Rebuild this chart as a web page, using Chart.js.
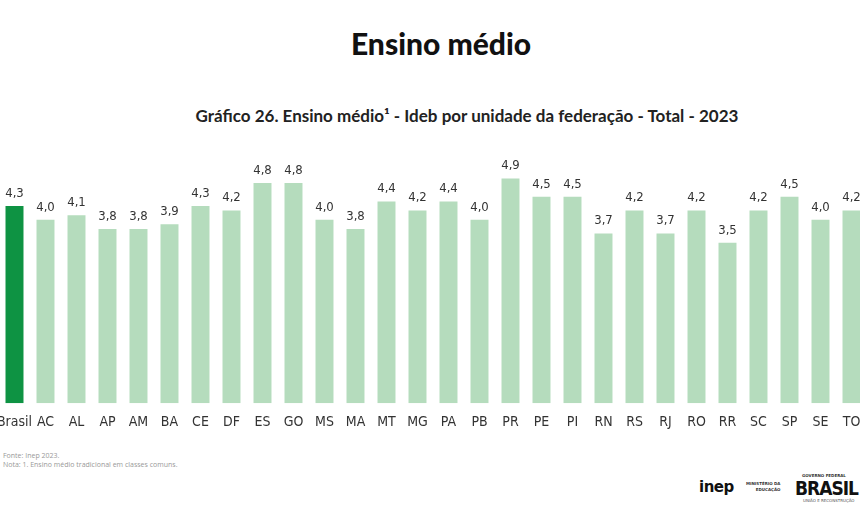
<!DOCTYPE html>
<html>
<head>
<meta charset="utf-8">
<script src="https://cdn.jsdelivr.net/npm/chart.js@4"></script>
<style>
  html, body { margin: 0; padding: 0; background: #fff; width: 860px; height: 510px; overflow: hidden; position: relative; }
  .title { position: absolute; top: 25px; left: 0; width: 882px; text-align: center; font: 900 30px Lato, "Noto Sans", sans-serif; color: #111; }
  .subtitle { position: absolute; top: 105px; left: 0; width: 934px; text-align: center; font: 700 17px Lato, "Noto Sans", sans-serif; color: #222; }
  #wrap { position: absolute; left: -1px; top: 151px; width: 868px; height: 291px; }
  .notes { position: absolute; left: 3px; top: 451px; font: 7px "Open Sans", sans-serif; color: #999; line-height: 9px; }
  .logo { position: absolute; font-family: "DejaVu Sans", sans-serif; color: #111; }
</style>
</head>
<body>
<div class="title">Ensino médio</div>
<div class="subtitle">Gráfico 26. Ensino médio¹ - Ideb por unidade da federação - Total - 2023</div>
<div id="wrap"><canvas id="chart"></canvas></div>
<div class="notes">Fonte: Inep 2023.<br>Nota: 1. Ensino médio tradicional em classes comuns.</div>
<div class="logo" style="left:699px;top:478px;font:900 15px 'DejaVu Sans';letter-spacing:-0.5px;">inep</div>
<div class="logo" style="left:746px;top:481px;font:700 4px 'DejaVu Sans';text-align:right;line-height:6px;color:#333;">MINISTÉRIO DA<br>EDUCAÇÃO</div>
<div class="logo" style="left:802px;top:473px;font:700 4px 'DejaVu Sans';color:#333;">GOVERNO FEDERAL</div>
<div class="logo" style="left:795px;top:477px;font:900 19px 'DejaVu Sans Condensed','DejaVu Sans';letter-spacing:-1px;">BRASIL</div>
<div class="logo" style="left:803px;top:498px;font:4px 'DejaVu Sans';color:#555;">UNIÃO E RECONSTRUÇÃO</div>
<script>
const categories = ['Brasil', 'AC', 'AL', 'AP', 'AM', 'BA', 'CE', 'DF', 'ES', 'GO', 'MS', 'MA', 'MT', 'MG',
  'PA', 'PB', 'PR', 'PE', 'PI', 'RN', 'RS', 'RJ', 'RO', 'RR', 'SC', 'SP', 'SE', 'TO'];
const ideb = [4.3, 4.0, 4.1, 3.8, 3.8, 3.9, 4.3, 4.2, 4.8, 4.8, 4.0, 3.8, 4.4, 4.2,
  4.4, 4.0, 4.9, 4.5, 4.5, 3.7, 4.2, 3.7, 4.2, 3.5, 4.2, 4.5, 4.0, 4.2];

const darkGreen = '#0e9343';
const lightGreen = '#b5dcbd';
const barColors = categories.map(c => c === 'Brasil' ? darkGreen : lightGreen);
const narrowFont = '"Liberation Sans Narrow", "Arial Narrow", "DejaVu Sans Condensed", sans-serif';

// value labels above each bar, written with a comma
const valueLabels = {
  id: 'valueLabels',
  afterDatasetsDraw(chart) {
    const ctx = chart.ctx;
    const meta = chart.getDatasetMeta(0);
    ctx.save();
    ctx.font = '13px ' + narrowFont;
    ctx.fillStyle = '#333';
    ctx.textAlign = 'center';
    ctx.textBaseline = 'bottom';
    meta.data.forEach((bar, i) => {
      ctx.fillText(ideb[i].toFixed(1).replace('.', ','), bar.x, bar.y - 6);
    });
    ctx.restore();
  }
};

new Chart(document.getElementById('chart'), {
  type: 'bar',
  data: {
    labels: categories,
    datasets: [{
      data: ideb,
      backgroundColor: barColors,
      borderWidth: 0,
      barPercentage: 0.58,
      categoryPercentage: 1.0,
    }],
  },
  options: {
    responsive: true,
    maintainAspectRatio: false,
    animation: false,
    layout: { padding: 0 },
    plugins: { legend: { display: false }, tooltip: { enabled: false } },
    scales: {
      x: {
        grid: { display: false, drawTicks: false },
        border: { display: false },
        afterFit(scale) {
          // slots already leave room for the labels
          scale.paddingLeft = 0;
          scale.paddingRight = 0;
        },
        ticks: {
          color: '#333',
          padding: 11,
          maxRotation: 0,
          autoSkip: false,
          font: { family: narrowFont, size: 14 },
        },
      },
      y: { display: false, min: 0, max: 5.5 },
    },
  },
  plugins: [valueLabels],
});
</script>
</body>
</html>
